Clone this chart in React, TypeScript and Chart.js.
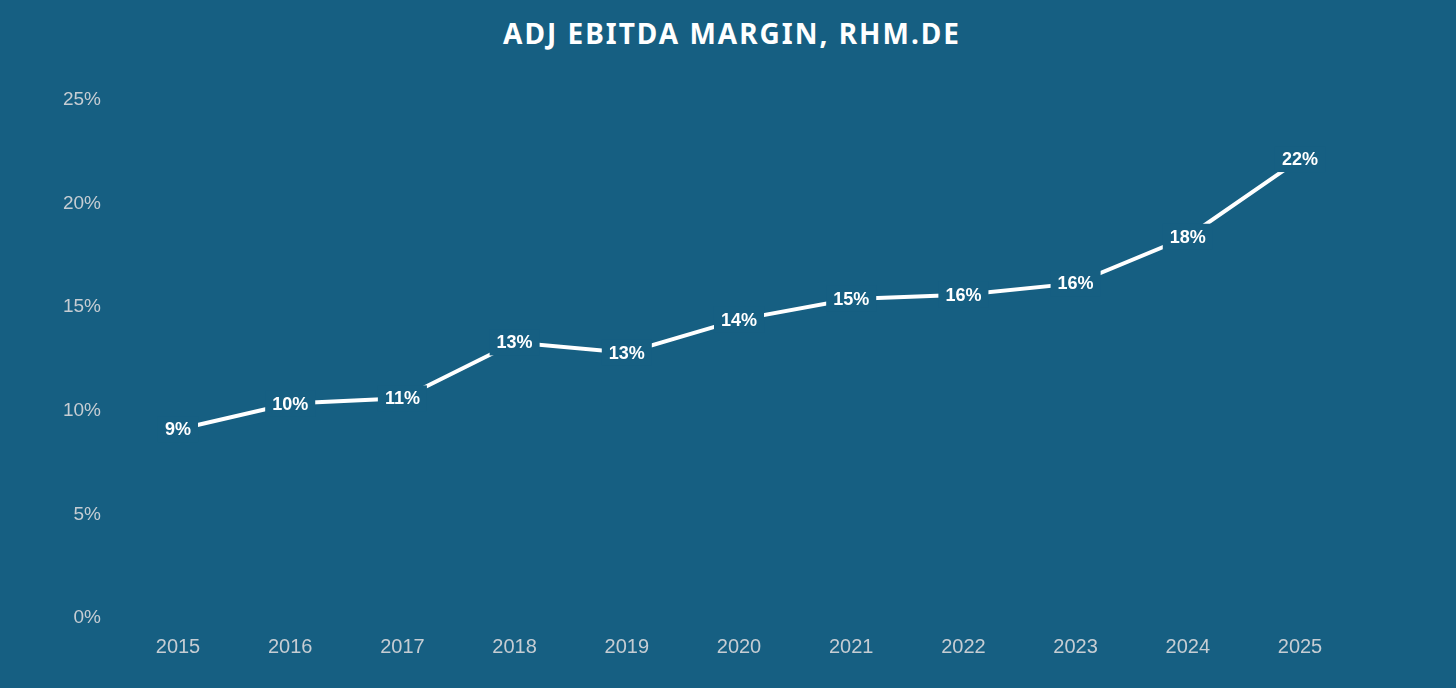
import React, { useEffect, useRef } from "react";
import { Chart, registerables } from "chart.js";

Chart.register(...registerables);

const years = ["2015", "2016", "2017", "2018", "2019", "2020", "2021", "2022", "2023", "2024", "2025"];
const margins = [9.1, 10.35, 10.6, 13.3, 12.8, 14.4, 15.4, 15.6, 16.15, 18.4, 22.15];
const labels = ["9%", "10%", "11%", "13%", "13%", "14%", "15%", "16%", "16%", "18%", "22%"];

const BG = "#165f82";
const TICK = "#c6cdd3";

// value labels sit on the points, with a background patch that cuts the line
const pointLabels = {
  id: "pointLabels",
  afterDatasetsDraw(chart: any) {
    const { ctx } = chart;
    const meta = chart.getDatasetMeta(0);
    ctx.save();
    ctx.font = "bold 18px 'Liberation Sans', Arial, sans-serif";
    ctx.textAlign = "center";
    ctx.textBaseline = "middle";
    meta.data.forEach((pt: any, i: number) => {
      const text = labels[i];
      const w = ctx.measureText(text).width;
      ctx.fillStyle = BG;
      ctx.fillRect(pt.x - w / 2 - 7, pt.y - 13, w + 14, 26);
      ctx.fillStyle = "#ffffff";
      ctx.fillText(text, pt.x, pt.y + 1);
    });
    ctx.restore();
  },
};

const App = () => {
  const canvasRef = useRef<HTMLCanvasElement | null>(null);
  const chartRef = useRef<Chart | null>(null);

  useEffect(() => {
    document.body.style.margin = "0";
    if (chartRef.current) chartRef.current.destroy();
    const ctx = canvasRef.current?.getContext("2d");
    if (ctx) {
      chartRef.current = new Chart(ctx, {
        type: "line",
        data: {
          labels: years,
          datasets: [
            {
              data: margins,
              borderColor: "#ffffff",
              borderWidth: 4,
              pointRadius: 0,
              tension: 0,
            },
          ],
        },
        options: {
          animation: false,
          responsive: false,
          layout: { padding: { top: 100, right: 156, left: 0, bottom: 0 } },
          plugins: {
            legend: { display: false },
            tooltip: { enabled: false },
          },
          scales: {
            x: {
              offset: false,
              grid: { display: false, drawTicks: false },
              border: { display: false },
              ticks: {
                color: TICK,
                padding: 17,
                maxRotation: 0,
                minRotation: 0,
                autoSkip: false,
                font: { family: "'Liberation Sans', Arial, sans-serif", size: 20 },
              },
              afterFit: (scale: any) => {
                scale.height = 70;
              },
            },
            y: {
              min: 0,
              max: 25,
              grid: { display: false, drawTicks: false },
              border: { display: false },
              ticks: {
                stepSize: 5,
                color: TICK,
                padding: 77,
                font: { family: "'Liberation Sans', Arial, sans-serif", size: 19 },
                callback: (v: any) => `${v}%`,
              },
              afterFit: (scale: any) => {
                scale.width = 178;
                // the big tick padding should only push labels sideways
                scale.paddingTop = 0;
                scale.paddingBottom = 0;
              },
            },
          },
        },
        plugins: [pointLabels],
      });
    }
    return () => {
      if (chartRef.current) chartRef.current.destroy();
      chartRef.current = null;
    };
  }, []);

  return (
    <div style={{ position: "relative", width: 1456, height: 688, background: BG }}>
      <div
        style={{
          position: "absolute",
          top: 14,
          left: 0,
          width: 1464,
          textAlign: "center",
          color: "#ffffff",
          fontFamily: "'Noto Sans', sans-serif",
          fontWeight: 700,
          fontSize: 28,
          letterSpacing: 2,
          lineHeight: "38px",
        }}
      >
        ADJ EBITDA MARGIN, RHM.DE
      </div>
      <canvas
        ref={canvasRef}
        width={1456}
        height={688}
        style={{ position: "absolute", left: 0, top: 0, width: 1456, height: 688 }}
      ></canvas>
    </div>
  );
};

export default App;
